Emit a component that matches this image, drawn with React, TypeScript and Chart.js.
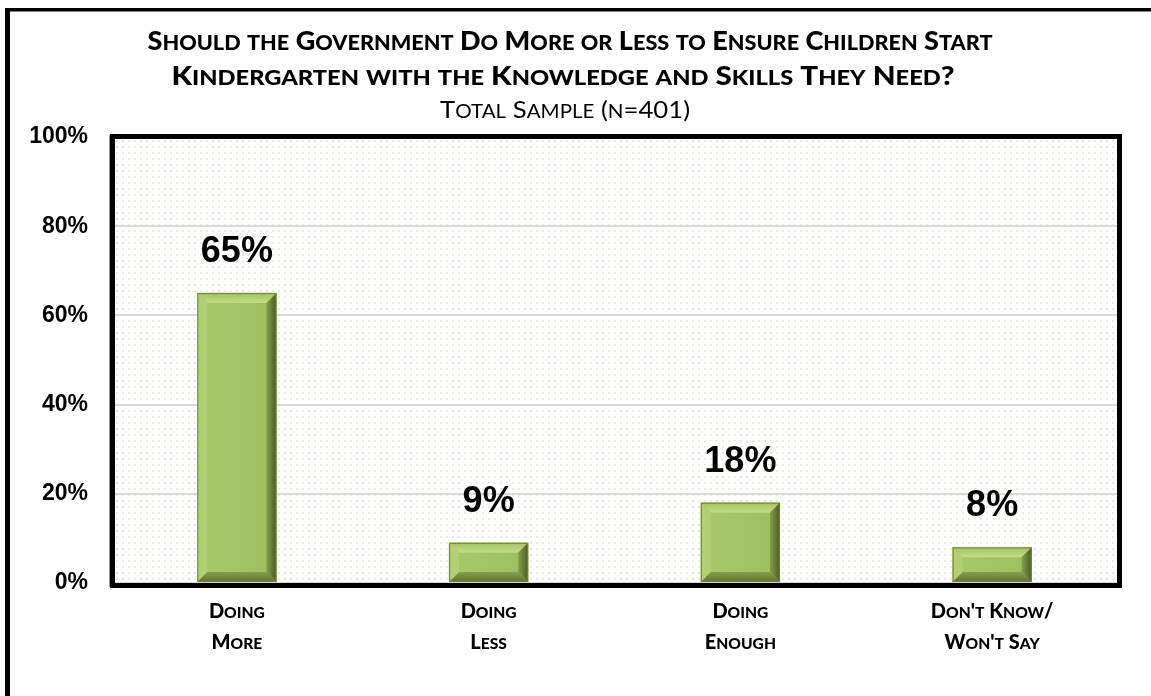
import React, { useEffect, useRef } from "react";
import { Chart, registerables } from "chart.js";

Chart.register(...registerables);

const categories: string[][] = [
  ["Doing", "More"],
  ["Doing", "Less"],
  ["Doing", "Enough"],
  ["Don't Know/", "Won't Say"],
];
const values: number[] = [65, 9, 18, 8];
const valueLabels: string[] = ["65%", "9%", "18%", "8%"];
const yTicks: number[] = [0, 20, 40, 60, 80, 100];
const titleLines: string[] = [
  "Should the Government Do More or Less to Ensure Children Start",
  "Kindergarten with the Knowledge and Skills They Need?",
];
const subtitle = "Total Sample (n=401)";

const FAMILY = "Lato, 'Open Sans', sans-serif";

// draw text in small caps: capitals at full size, lowercase as reduced capitals
function drawSmallCaps(
  ctx: CanvasRenderingContext2D,
  text: string,
  cx: number,
  baseline: number,
  size: number,
  ratio: number,
  weight: string,
  targetWidth?: number
) {
  const runs: { t: string; s: number }[] = [];
  for (const ch of text) {
    const isLower = ch !== ch.toUpperCase();
    const s = isLower ? size * ratio : size;
    const t = ch.toUpperCase();
    if (runs.length && runs[runs.length - 1].s === s) runs[runs.length - 1].t += t;
    else runs.push({ t, s });
  }
  let total = 0;
  const widths = runs.map((r) => {
    ctx.font = `${weight} ${r.s}px ${FAMILY}`;
    const w = ctx.measureText(r.t).width;
    total += w;
    return w;
  });
  const sx = targetWidth ? targetWidth / total : 1;
  ctx.save();
  ctx.translate(cx - (total * sx) / 2, baseline);
  ctx.scale(sx, 1);
  ctx.textAlign = "left";
  ctx.textBaseline = "alphabetic";
  let x = 0;
  runs.forEach((r, i) => {
    ctx.font = `${weight} ${r.s}px ${FAMILY}`;
    ctx.fillText(r.t, x, 0);
    x += widths[i];
  });
  ctx.restore();
}

function makeDotPattern(ctx: CanvasRenderingContext2D) {
  const c = document.createElement("canvas");
  c.width = 6;
  c.height = 6;
  const g = c.getContext("2d")!;
  g.fillStyle = "#ffffff";
  g.fillRect(0, 0, 6, 6);
  g.fillStyle = "#ecedd9";
  g.fillRect(2, 2, 2, 2);
  return ctx.createPattern(c, "repeat");
}

const decorPlugin = {
  id: "decor",
  beforeDraw(chart: any) {
    const { ctx, chartArea: a } = chart;
    ctx.save();
    // outer frame
    ctx.fillStyle = "#000";
    ctx.fillRect(5, 8, 5, 700);
    ctx.fillRect(5, 8, 1200, 3.5);
    // plot background dots
    const pat = makeDotPattern(ctx);
    if (pat) {
      ctx.fillStyle = pat;
      ctx.fillRect(a.left, a.top, a.right - a.left, a.bottom - a.top);
    }
    // titles
    ctx.fillStyle = "#000";
    drawSmallCaps(ctx, titleLines[0], 570, 50, 27, 0.8, "900", 845);
    drawSmallCaps(ctx, titleLines[1], 563, 85, 27, 0.8, "900", 783);
    drawSmallCaps(ctx, subtitle, 565, 118, 23, 0.8, "normal", 250);
    ctx.restore();
  },
  beforeDatasetsDraw(chart: any) {
    const { ctx, chartArea: a } = chart;
    ctx.save();
    ctx.strokeStyle = "#9a9a9a";
    ctx.lineWidth = 1;
    ctx.strokeRect(a.left - 1.5, a.top - 1.5, a.right - a.left + 5, a.bottom - a.top + 5);
    ctx.strokeStyle = "#000";
    ctx.lineWidth = 5;
    ctx.strokeRect(a.left + 1.5, a.top - 0.5, a.right - a.left, a.bottom - a.top + 3);
    ctx.restore();
  },
  afterDatasetsDraw(chart: any) {
    const { ctx } = chart;
    const meta = chart.getDatasetMeta(0);
    const xs = chart.scales.x;
    ctx.save();
    meta.data.forEach((bar: any, i: number) => {
      const w = bar.width;
      const l = bar.x - w / 2;
      const r = bar.x + w / 2;
      const t = bar.y;
      const bo = bar.base;
      const b = Math.min(10, (bo - t) / 2);
      const poly = (pts: number[][], fill: any) => {
        ctx.beginPath();
        ctx.moveTo(pts[0][0], pts[0][1]);
        for (let k = 1; k < pts.length; k++) ctx.lineTo(pts[k][0], pts[k][1]);
        ctx.closePath();
        ctx.fillStyle = fill;
        ctx.fill();
      };
      const fg = ctx.createLinearGradient(l, 0, r, 0);
      fg.addColorStop(0, "#a9c86b");
      fg.addColorStop(1, "#9fbe60");
      ctx.fillStyle = fg;
      ctx.fillRect(l + b, t + b, w - 2 * b, bo - t - 2 * b);
      const tg = ctx.createLinearGradient(0, t, 0, t + b);
      tg.addColorStop(0, "#a6c266");
      tg.addColorStop(1, "#c2dd85");
      poly([[l, t], [r, t], [r - b, t + b], [l + b, t + b]], tg);
      poly([[l, t], [l + b, t + b], [l + b, bo - b], [l, bo]], "#b2cf73");
      const rg = ctx.createLinearGradient(r - b, 0, r, 0);
      rg.addColorStop(0, "#84a04a");
      rg.addColorStop(1, "#4b5c26");
      poly([[r, t], [r, bo], [r - b, bo - b], [r - b, t + b]], rg);
      const bg = ctx.createLinearGradient(0, bo - b, 0, bo);
      bg.addColorStop(0, "#86a04b");
      bg.addColorStop(1, "#5d7330");
      poly([[l, bo], [r, bo], [r - b, bo - b], [l + b, bo - b]], bg);
      ctx.strokeStyle = "#6f8242";
      ctx.lineWidth = 1;
      ctx.strokeRect(l + 0.5, t + 0.5, w - 1, bo - t - 1);
      // value label
      ctx.fillStyle = "#000";
      ctx.font = "bold 36px 'Liberation Sans', Arial, sans-serif";
      ctx.textAlign = "center";
      ctx.textBaseline = "alphabetic";
      ctx.fillText(valueLabels[i], bar.x, t - 31);
    });
    // category labels (small caps)
    categories.forEach((lines, i) => {
      const cx = xs.getPixelForValue(i);
      lines.forEach((ln, j) => {
        drawSmallCaps(ctx, ln, cx, 618 + j * 31, 20, 0.78, "900");
      });
    });
    ctx.restore();
  },
};

export default function App() {
  const ref = useRef<HTMLCanvasElement | null>(null);
  useEffect(() => {
    if (!ref.current) return;
    const chart = new Chart(ref.current, {
      type: "bar",
      data: {
        labels: categories,
        datasets: [
          {
            data: values,
            backgroundColor: "#a3c264",
            borderWidth: 0,
            barThickness: 79,
          },
        ],
      },
      options: {
        responsive: false,
        animation: false,
        devicePixelRatio: 1,
        layout: { padding: { top: 137, right: 33, left: 0, bottom: 0 } },
        plugins: {
          legend: { display: false },
          tooltip: { enabled: false },
          title: { display: false },
        },
        scales: {
          x: {
            grid: { display: false, drawTicks: false },
            border: { display: false },
            afterFit: (s: any) => {
              s.height = 113;
            },
            ticks: { display: false },
          },
          y: {
            min: 0,
            max: 100,
            afterFit: (s: any) => {
              s.width = 111;
            },
            afterBuildTicks: (s: any) => {
              s.ticks = yTicks.map((v) => ({ value: v }));
            },
            grid: { color: "#d9d9d9", lineWidth: 2, drawTicks: false },
            border: { display: false },
            ticks: {
              color: "#000",
              padding: 23,
              font: { family: "'Liberation Sans', Arial", weight: "bold", size: 23 },
              callback: (v: any) => v + "%",
            },
          },
        },
      },
      plugins: [decorPlugin],
    });
    return () => chart.destroy();
  }, []);
  return (
    <div style={{ position: "absolute", left: 0, top: 0, width: 1151, height: 696, background: "#fff" }}>
      <canvas ref={ref} width={1151} height={696} />
    </div>
  );
}
